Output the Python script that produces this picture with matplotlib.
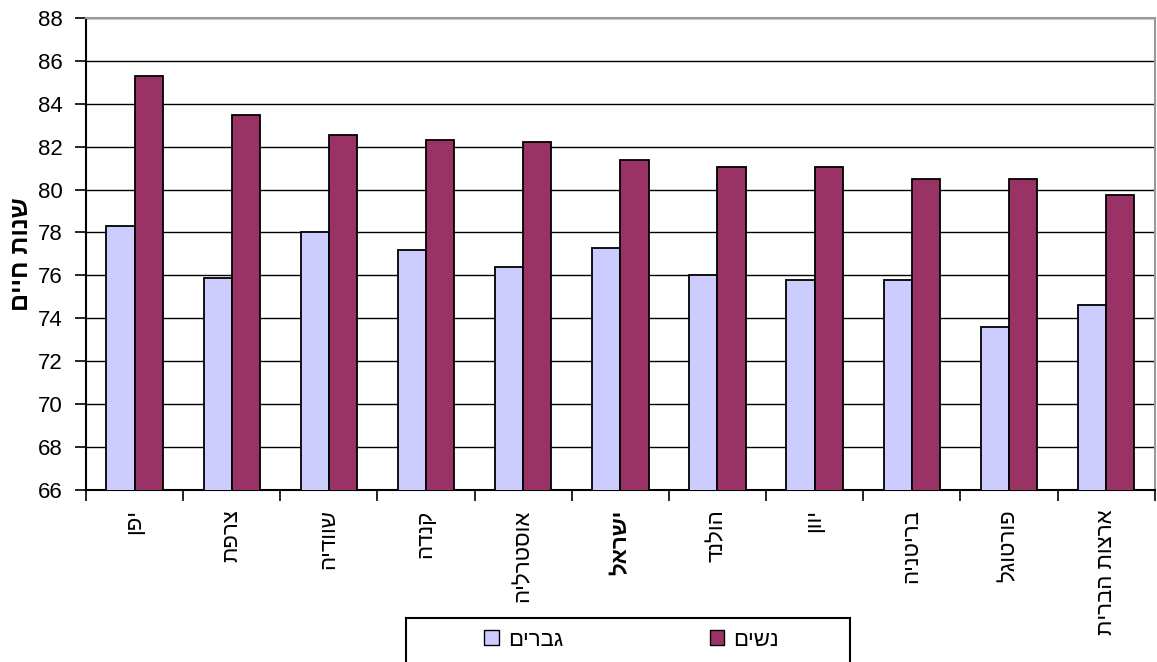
import matplotlib.pyplot as plt
from matplotlib.patches import Patch, Rectangle
import numpy as np

plt.rcParams['font.family'] = ['Liberation Sans', 'DejaVu Sans']

countries = ['יפן', 'צרפת', 'שוודיה', 'קנדה', 'אוסטרליה', 'ישראל',
             'הולנד', 'יוון', 'בריטניה', 'פורטוגל', 'ארצות הברית']
men = [78.3, 75.9, 78.0, 77.2, 76.4, 77.3, 76.0, 75.8, 75.8, 73.6, 74.6]
women = [85.3, 83.5, 82.55, 82.3, 82.2, 81.4, 81.05, 81.05, 80.5, 80.5, 79.75]
yticks = list(range(66, 89, 2))


def rtl(s):
    # matplotlib has no bidi support, so give it visual order
    return s[::-1]


fig = plt.figure(figsize=(11.57, 6.62), dpi=100)
ax = fig.add_axes([0.0743, 0.26, 0.9237, 0.7128])

x = np.arange(len(countries))
w = 0.29
ax.bar(x - w / 2, men, w, color='#CCCCFF', edgecolor='black', linewidth=1.3, zorder=3)
ax.bar(x + w / 2, women, w, color='#993366', edgecolor='black', linewidth=1.3, zorder=3)

ax.set_ylim(66, 88)
ax.set_xlim(-0.5, len(countries) - 0.5)
ax.set_yticks(yticks)
ax.set_yticklabels([str(t) for t in yticks], fontsize=16)
ax.yaxis.grid(True, color='black', linewidth=1, zorder=0)
ax.tick_params(axis='y', direction='out', length=8, width=1.2, pad=9)

ax.set_xticks(x)
ax.set_xticklabels([rtl(c) for c in countries], rotation=90, fontsize=16)
ax.get_xticklabels()[5].set_fontweight('bold')
ax.set_xticks(np.arange(len(countries) + 1) - 0.5, minor=True)
ax.tick_params(axis='x', which='major', length=0, pad=14)
ax.tick_params(axis='x', which='minor', direction='out', length=8, width=1.2)

ax.set_ylabel(rtl('שנות חיים'), fontsize=18, fontweight='bold', labelpad=3)

for side in ['top', 'right']:
    ax.spines[side].set_color('#999999')
    ax.spines[side].set_linewidth(1.5)
for side in ['left', 'bottom']:
    ax.spines[side].set_color('black')
    ax.spines[side].set_linewidth(1.5)

# legend box runs off the bottom edge like in the original
fig.patches.append(Rectangle((0.351, -0.02), 0.384, 0.0865, transform=fig.transFigure,
                             facecolor='white', edgecolor='black', linewidth=1.5))
handles = [Patch(facecolor='#CCCCFF', edgecolor='black', label=rtl('גברים')),
           Patch(facecolor='#993366', edgecolor='black', label=rtl('נשים'))]
fig.legend(handles=handles, ncol=2, fontsize=16,
           loc='center', bbox_to_anchor=(0.5458, 0.033), frameon=False,
           handlelength=0.65, handleheight=0.65, handletextpad=0.4, columnspacing=6.6)

fig.savefig('out.png', dpi=100)
